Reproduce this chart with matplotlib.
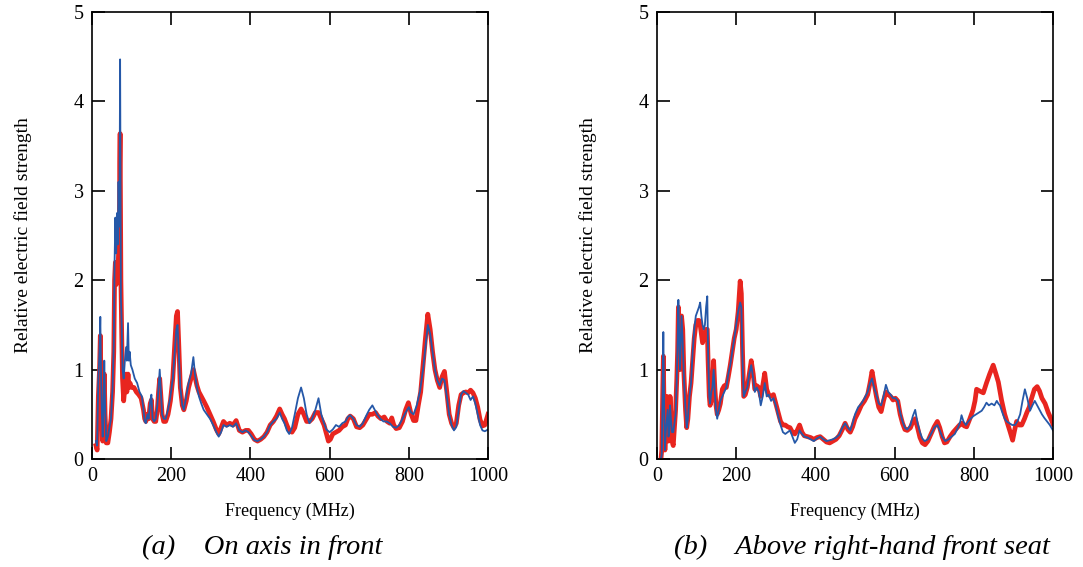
import matplotlib
matplotlib.use("Agg")
import matplotlib.pyplot as plt

plt.rcParams['font.family'] = ['Liberation Serif', 'DejaVu Serif']

# (a) on axis in front -- blue (thin) and red (thick) traces
fa_blue = [10, 13, 16, 19, 21, 23, 25, 27, 29, 31, 33, 36, 40, 44, 48, 52, 55, 57, 59, 61, 63, 65, 67, 69, 70,
           71, 72, 73, 75, 77, 80, 83, 86, 88, 91, 93, 95, 98, 102, 108, 114, 120, 126, 130, 133, 136, 140, 143,
           147, 150, 153, 157, 161, 165, 168, 171, 174, 177, 181, 186, 192, 198, 204, 209, 213, 216, 219, 223,
           228, 232, 238, 244, 250, 256, 260, 265, 270, 276, 282, 290, 298, 306, 314, 320, 326, 332, 340, 348,
           356, 364, 372, 380, 388, 395, 402, 410, 418, 426, 434, 442, 450, 458, 466, 474, 480, 486, 492, 498,
           505, 512, 520, 528, 535, 542, 549, 556, 564, 572, 579, 586, 592, 600, 608, 616, 624, 632, 640, 646,
           652, 660, 668, 676, 684, 692, 700, 708, 714, 720, 728, 736, 744, 752, 760, 768, 776, 784, 792, 800,
           806, 812, 820, 828, 836, 842, 848, 854, 860, 866, 872, 878, 884, 890, 896, 902, 908, 914, 920, 926,
           932, 938, 944, 950, 956, 962, 968, 974, 980, 986, 992, 1000]
ea_blue = [0.2, 0.15, 0.9, 1.2, 1.59, 0.9, 0.5, 0.25, 0.6, 1.1, 0.6, 0.2, 0.25, 0.35, 0.45, 0.8, 1.3, 2.2, 2.7,
           2.3, 2.75, 2.4, 3.1, 2.6, 3.4, 4.47, 3.0, 1.8, 1.5, 1.0, 0.9, 1.1, 1.25, 1.1, 1.52, 1.1, 1.2, 1.05,
           1.0, 0.9, 0.85, 0.75, 0.7, 0.55, 0.42, 0.4, 0.5, 0.45, 0.65, 0.72, 0.45, 0.42, 0.45, 0.6, 0.8, 1.0,
           0.75, 0.5, 0.45, 0.45, 0.55, 0.7, 0.9, 1.2, 1.45, 1.5, 1.2, 0.8, 0.6, 0.55, 0.7, 0.85, 0.95, 1.14,
           0.95, 0.8, 0.7, 0.62, 0.55, 0.5, 0.45, 0.38, 0.3, 0.25, 0.3, 0.38, 0.36, 0.38, 0.36, 0.4, 0.32, 0.3,
           0.32, 0.3, 0.26, 0.21, 0.2, 0.22, 0.25, 0.3, 0.38, 0.42, 0.45, 0.52, 0.45, 0.4, 0.32, 0.28, 0.35,
           0.5, 0.68, 0.8, 0.68, 0.5, 0.4, 0.45, 0.55, 0.68, 0.5, 0.4, 0.33, 0.3, 0.33, 0.38, 0.36, 0.4, 0.42,
           0.47, 0.49, 0.45, 0.38, 0.36, 0.4, 0.48, 0.55, 0.6, 0.55, 0.5, 0.45, 0.42, 0.42, 0.4, 0.36, 0.35,
           0.38, 0.45, 0.52, 0.58, 0.52, 0.5, 0.6, 0.75, 1.0, 1.25, 1.5, 1.4, 1.2, 1.0, 0.88, 0.82, 0.9, 0.88,
           0.7, 0.5, 0.38, 0.32, 0.36, 0.55, 0.72, 0.76, 0.74, 0.72, 0.66, 0.7, 0.62, 0.5, 0.38, 0.32, 0.31,
           0.33]

fa_red = [10, 13, 16, 19, 21, 23, 25, 27, 29, 31, 33, 36, 40, 44, 48, 52, 55, 57, 59, 61, 63, 65, 67, 69, 70,
          71, 72, 73, 75, 77, 80, 83, 86, 88, 91, 93, 96, 100, 106, 112, 118, 124, 130, 133, 136, 140, 143, 147,
          150, 153, 157, 161, 165, 168, 171, 174, 177, 181, 186, 192, 198, 204, 209, 213, 216, 219, 223, 228,
          232, 238, 244, 250, 256, 260, 265, 270, 276, 282, 290, 298, 306, 314, 320, 326, 332, 340, 348, 356,
          364, 372, 380, 388, 395, 402, 410, 418, 426, 434, 442, 450, 458, 466, 474, 480, 486, 492, 498, 505,
          512, 520, 528, 535, 542, 549, 556, 564, 572, 579, 586, 592, 597, 602, 608, 616, 624, 632, 640, 646,
          652, 660, 668, 676, 684, 692, 700, 708, 716, 722, 730, 738, 745, 752, 757, 762, 768, 776, 784, 792,
          799, 806, 812, 818, 824, 830, 836, 842, 848, 854, 860, 866, 872, 878, 884, 890, 896, 902, 908, 914,
          920, 926, 932, 938, 944, 950, 956, 962, 968, 974, 980, 986, 992, 1000]
ea_red = [0.15, 0.1, 0.7, 1.0, 1.38, 0.8, 0.45, 0.2, 0.45, 0.95, 0.5, 0.18, 0.18, 0.3, 0.45, 0.75, 1.2, 2.0,
          2.2, 1.95, 2.2, 2.0, 2.3, 2.5, 3.3, 3.64, 2.8, 2.0, 1.4, 0.9, 0.65, 0.8, 0.95, 0.75, 0.95, 0.8, 0.85,
          0.8, 0.8, 0.75, 0.72, 0.68, 0.55, 0.45, 0.42, 0.5, 0.45, 0.62, 0.66, 0.45, 0.42, 0.42, 0.55, 0.75,
          0.9, 0.7, 0.5, 0.42, 0.42, 0.5, 0.65, 0.9, 1.3, 1.6, 1.65, 1.3, 0.8, 0.6, 0.55, 0.65, 0.8, 0.9, 1.0,
          0.92, 0.82, 0.75, 0.7, 0.65, 0.58, 0.5, 0.42, 0.33, 0.28, 0.35, 0.42, 0.38, 0.4, 0.38, 0.43, 0.32,
          0.3, 0.32, 0.32, 0.28, 0.22, 0.2, 0.22, 0.25, 0.3, 0.38, 0.42, 0.48, 0.56, 0.5, 0.45, 0.38, 0.32,
          0.3, 0.35, 0.5, 0.56, 0.5, 0.42, 0.42, 0.45, 0.52, 0.52, 0.45, 0.38, 0.28, 0.2, 0.22, 0.28, 0.3,
          0.32, 0.36, 0.38, 0.45, 0.48, 0.45, 0.36, 0.35, 0.38, 0.44, 0.5, 0.5, 0.52, 0.48, 0.45, 0.47, 0.42,
          0.4, 0.46, 0.38, 0.34, 0.35, 0.42, 0.55, 0.63, 0.5, 0.43, 0.43, 0.6, 0.75, 1.05, 1.35, 1.62, 1.45,
          1.2, 1.0, 0.88, 0.8, 0.92, 0.98, 0.75, 0.5, 0.4, 0.35, 0.4, 0.6, 0.72, 0.74, 0.75, 0.74, 0.77, 0.74,
          0.68, 0.58, 0.44, 0.37, 0.38, 0.5]

# (b) above right-hand front seat
fb_blue = [10, 12, 14, 16, 18, 20, 22, 25, 27, 29, 31, 33, 35, 38, 41, 44, 47, 50, 52, 54, 56, 58, 60, 62, 65,
           68, 72, 75, 78, 82, 86, 90, 94, 98, 102, 106, 109, 112, 115, 118, 121, 124, 127, 129, 132, 134, 137,
           140, 143, 146, 149, 152, 156, 160, 165, 170, 175, 180, 185, 190, 195, 200, 205, 210, 213, 216, 219,
           223, 228, 233, 238, 243, 247, 252, 257, 262, 267, 272, 277, 282, 288, 294, 300, 306, 312, 318, 324,
           330, 336, 342, 348, 354, 360, 366, 372, 380, 388, 396, 404, 412, 420, 428, 436, 444, 452, 460, 468,
           475, 482, 488, 494, 500, 508, 516, 524, 532, 538, 543, 548, 554, 560, 566, 572, 578, 584, 590, 596,
           602, 608, 614, 620, 626, 632, 640, 646, 652, 658, 664, 670, 676, 684, 692, 700, 708, 714, 720, 728,
           736, 744, 752, 760, 766, 769, 774, 780, 786, 792, 799, 806, 813, 820, 826, 832, 838, 845, 852, 858,
           862, 866, 872, 878, 883, 890, 897, 904, 910, 917, 923, 929, 935, 942, 948, 954, 960, 966, 972, 978,
           985, 992, 1000]
eb_blue = [0.0, 0.05, 0.7, 1.42, 0.6, 0.1, 0.3, 0.45, 0.55, 0.25, 0.3, 0.6, 0.45, 0.3, 0.3, 0.4, 0.5, 0.9,
           1.3, 1.78, 1.4, 1.0, 1.3, 1.6, 1.3, 0.9, 0.55, 0.35, 0.45, 0.7, 0.85, 1.2, 1.45, 1.6, 1.65, 1.7,
           1.75, 1.6, 1.5, 1.45, 1.5, 1.7, 1.82, 1.2, 0.7, 0.62, 0.75, 0.8, 1.0, 0.75, 0.55, 0.45, 0.55, 0.65,
           0.7, 0.75, 0.8, 0.95, 1.05, 1.2, 1.35, 1.5, 1.65, 1.75, 1.7, 1.1, 0.7, 0.75, 0.8, 0.95, 1.05, 0.9,
           0.75, 0.8, 0.75, 0.6, 0.7, 0.85, 0.7, 0.72, 0.65, 0.68, 0.6, 0.48, 0.38, 0.3, 0.28, 0.3, 0.32, 0.25,
           0.18, 0.22, 0.32, 0.28, 0.25, 0.24, 0.22, 0.2, 0.23, 0.25, 0.22, 0.2, 0.21, 0.22, 0.24, 0.27, 0.35,
           0.4, 0.35, 0.32, 0.4, 0.5, 0.58, 0.62, 0.68, 0.75, 0.85, 0.9, 0.8, 0.72, 0.62, 0.6, 0.7, 0.83, 0.75,
           0.72, 0.68, 0.68, 0.65, 0.52, 0.42, 0.35, 0.33, 0.38, 0.48, 0.55, 0.4, 0.3, 0.23, 0.2, 0.22, 0.28,
           0.35, 0.38, 0.32, 0.25, 0.2, 0.22, 0.25, 0.28, 0.35, 0.42, 0.49, 0.42, 0.38, 0.42, 0.45, 0.48, 0.5,
           0.52, 0.54, 0.58, 0.63, 0.6, 0.62, 0.6, 0.65, 0.62, 0.6, 0.52, 0.45, 0.42, 0.4, 0.38, 0.38, 0.42,
           0.5, 0.65, 0.78, 0.68, 0.54, 0.6, 0.65, 0.6, 0.55, 0.5, 0.46, 0.42, 0.38, 0.32]

fb_red = [10, 12, 14, 16, 18, 20, 22, 25, 27, 29, 31, 33, 35, 38, 41, 44, 47, 50, 52, 54, 56, 58, 60, 62, 65,
          68, 72, 75, 78, 82, 86, 90, 94, 98, 102, 106, 109, 112, 115, 118, 121, 124, 127, 129, 132, 134, 137,
          140, 143, 146, 149, 152, 156, 160, 165, 170, 175, 180, 185, 190, 195, 200, 205, 210, 213, 216, 219,
          223, 228, 233, 238, 243, 247, 252, 257, 262, 267, 272, 277, 282, 288, 294, 300, 306, 312, 318, 324,
          330, 336, 342, 348, 354, 360, 366, 372, 380, 388, 396, 404, 412, 420, 428, 436, 444, 452, 460, 468,
          475, 482, 488, 494, 500, 508, 516, 524, 532, 538, 543, 548, 554, 560, 566, 572, 578, 584, 590, 596,
          602, 608, 614, 620, 626, 632, 640, 646, 652, 658, 664, 670, 677, 684, 692, 700, 708, 714, 720, 726,
          732, 740, 748, 756, 764, 770, 776, 782, 790, 798, 803, 807, 815, 824, 832, 840, 849, 856, 862, 870,
          878, 885, 892, 898, 903, 908, 914, 921, 928, 934, 940, 946, 953, 960, 966, 972, 980, 988, 995, 1000]
eb_red = [0.0, 0.1, 0.6, 1.15, 0.5, 0.1, 0.3, 0.7, 0.45, 0.2, 0.35, 0.7, 0.5, 0.2, 0.15, 0.35, 0.55, 0.9,
          1.2, 1.7, 1.35, 1.0, 1.2, 1.6, 1.45, 0.95, 0.55, 0.35, 0.45, 0.7, 0.85, 1.1, 1.35, 1.5, 1.55, 1.55,
          1.5, 1.4, 1.3, 1.35, 1.4, 1.45, 1.45, 1.1, 0.7, 0.6, 0.65, 0.8, 1.1, 0.8, 0.6, 0.5, 0.55, 0.62, 0.78,
          0.82, 0.8, 0.92, 1.05, 1.2, 1.35, 1.45, 1.65, 1.99, 1.85, 1.2, 0.7, 0.72, 0.8, 0.95, 1.1, 0.95, 0.78,
          0.82, 0.8, 0.7, 0.82, 0.96, 0.78, 0.72, 0.7, 0.72, 0.62, 0.52, 0.42, 0.38, 0.38, 0.36, 0.35, 0.3,
          0.28, 0.32, 0.38, 0.3, 0.26, 0.25, 0.24, 0.22, 0.24, 0.25, 0.22, 0.19, 0.18, 0.2, 0.22, 0.26, 0.33,
          0.4, 0.33, 0.3, 0.36, 0.45, 0.52, 0.6, 0.65, 0.72, 0.85, 0.98, 0.85, 0.7, 0.58, 0.53, 0.65, 0.75,
          0.72, 0.7, 0.66, 0.68, 0.65, 0.5, 0.4, 0.33, 0.32, 0.35, 0.42, 0.45, 0.35, 0.24, 0.18, 0.16, 0.2,
          0.28, 0.36, 0.42, 0.35, 0.25, 0.18, 0.19, 0.25, 0.3, 0.34, 0.38, 0.4, 0.37, 0.36, 0.45, 0.55, 0.65,
          0.78, 0.76, 0.74, 0.85, 0.95, 1.05, 0.95, 0.86, 0.66, 0.5, 0.4, 0.3, 0.21, 0.32, 0.42, 0.38, 0.38,
          0.45, 0.52, 0.58, 0.68, 0.78, 0.81, 0.76, 0.68, 0.62, 0.52, 0.45, 0.39]

panels = [
    (fa_blue, ea_blue, fa_red, ea_red, "(a)    On axis in front", 262),
    (fb_blue, eb_blue, fb_red, eb_red, "(b)    Above right-hand front seat", 862),
]
lefts = [92 / 1083, 657 / 1083]

fig = plt.figure(figsize=(10.83, 5.67), dpi=100)

for (fbl, ebl, frd, erd, caption, cap_x), left in zip(panels, lefts):
    ax = fig.add_axes([left, 108 / 567, 396 / 1083, 447 / 567])
    ax.plot(frd, erd, color='#e8251f', lw=3.4, solid_joinstyle='round')
    ax.plot(fbl, ebl, color='#2558a8', lw=1.3)
    ax.set_xlim(0, 1000)
    ax.set_ylim(0, 5)
    ax.set_xticks([0, 200, 400, 600, 800, 1000])
    ax.set_yticks([0, 1, 2, 3, 4, 5])
    ax.tick_params(direction='in', length=9, width=1.2, top=True, right=True,
                   labelsize=14.5, pad=6)
    for sp in ax.spines.values():
        sp.set_linewidth(1.2)
    ax.set_xlabel("Frequency (MHz)", fontsize=13, labelpad=12)
    ax.set_ylabel("Relative electric field strength", fontsize=14, labelpad=30)
    fig.text(cap_x / 1083, 0.035, caption, ha='center', va='center', fontsize=20.5, style='italic')

fig.savefig("out.png", dpi=100)
